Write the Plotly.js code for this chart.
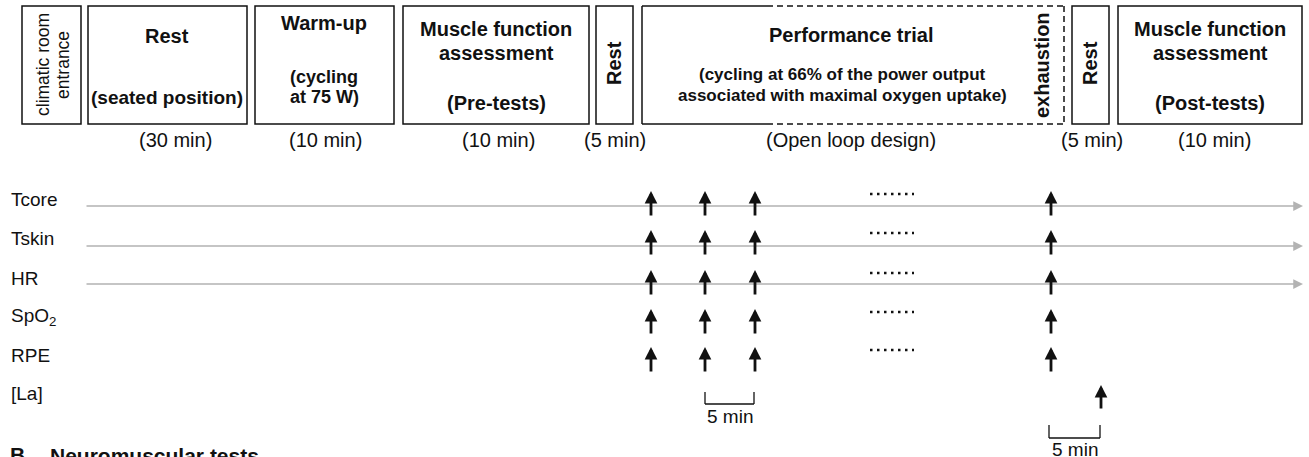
<!DOCTYPE html>
<html>
<head>
<meta charset="utf-8">
<script src="https://cdn.plot.ly/plotly-3.0.1.min.js"></script>
<style>html,body{margin:0;padding:0;background:#fff;}#chart{width:1309px;height:457px;}</style>
</head>
<body>
<div id="chart"></div>
<script>
// ---- content ----
const phaseTitles = ['Rest', 'Warm-up', 'Muscle function<br>assessment', 'Rest', 'Performance trial', 'Rest', 'Muscle function<br>assessment'];
const phaseSubtitles = ['(seated position)', '(cycling<br>at 75 W)', '(Pre-tests)', '', '(cycling at 66% of the power output<br>associated with maximal oxygen uptake)', '', '(Post-tests)'];
const phaseDurations = ['(30 min)', '(10 min)', '(10 min)', '(5 min)', '(Open loop design)', '(5 min)', '(10 min)'];
const entranceLabel = ['climatic room', 'entrance'];
const endLabel = 'exhaustion';
const variables = ['Tcore', 'Tskin', 'HR', 'SpO<sub>2</sub>', 'RPE', '[La]'];
const continuousRecording = [true, true, true, false, false, false];
const sampledDuringTrial = [true, true, true, true, true, false];
const sampledAfterRest = [false, false, false, false, false, true];
const scaleLabel = '5 min';
const panelB = 'B';
const panelBTitle = 'Neuromuscular tests';

// ---- geometry (pixel-like diagram coordinates) ----
const BOX_TOP = 6, BOX_BOT = 124;
const entranceBox = [22, 81];
const phaseBoxes = [[88, 247], [255, 394], [403, 589], [596, 633], [642, 1064], [1072, 1109], [1118, 1302]];
const durationX = [175, 325, 498, 615, 851, 1092, 1214];
const rowY = [206, 246, 284, 324, 363, 405];
const labelY = [199, 238, 278, 317, 355, 393];
const trialSampleX = [651, 705, 755, 1051];
const postRestSampleX = [1101];
const lineStartX = 85, lineEndX = 1303;
const dotsX = [870, 914];

const FONT = 'Liberation Sans, Arial, sans-serif';
const BLACK = '#111';
const shapes = [];
const ann = [];

function rect(x0, x1, dash) {
  shapes.push({type: 'rect', xref: 'x', yref: 'y', x0: x0, x1: x1, y0: BOX_TOP, y1: BOX_BOT,
    line: {color: BLACK, width: 1.5, dash: dash || 'solid'}});
}
function seg(x0, y0, x1, y1, color, width, dash) {
  shapes.push({type: 'line', xref: 'x', yref: 'y', x0: x0, y0: y0, x1: x1, y1: y1,
    line: {color: color, width: width, dash: dash || 'solid'}});
}
function txt(text, x, y, size, opts) {
  ann.push(Object.assign({text: text, x: x, y: y, xref: 'x', yref: 'y', showarrow: false,
    font: {family: FONT, size: size, color: BLACK}, xanchor: 'center', yanchor: 'middle'}, opts || {}));
}
function upArrow(x, yTip, len) {
  ann.push({text: '', x: x, y: yTip, ax: x, ay: yTip + len, xref: 'x', yref: 'y', axref: 'x', ayref: 'y',
    showarrow: true, arrowhead: 2, arrowsize: 0.9, arrowwidth: 2.8, arrowcolor: BLACK, standoff: 0, startstandoff: 0});
}

// entrance box
rect(entranceBox[0], entranceBox[1]);
txt(entranceLabel[0], 43, 65, 17.5, {textangle: -90});
txt(entranceLabel[1], 63, 65, 17.5, {textangle: -90});

// phase boxes
phaseBoxes.forEach((b, i) => {
  if (i === 4) {
    const split = 767;
    seg(b[0], BOX_TOP, b[0], BOX_BOT, BLACK, 1.5);
    seg(b[0], BOX_TOP, split, BOX_TOP, BLACK, 1.5);
    seg(b[0], BOX_BOT, split, BOX_BOT, BLACK, 1.5);
    seg(split, BOX_TOP, b[1], BOX_TOP, BLACK, 1.5, '6px,4px');
    seg(split, BOX_BOT, b[1], BOX_BOT, BLACK, 1.5, '6px,4px');
    seg(b[1], BOX_TOP, b[1], BOX_BOT, BLACK, 1.5, '6px,4px');
  } else {
    rect(b[0], b[1]);
  }
});

// box texts
txt('<b>' + phaseTitles[0] + '</b>', 167, 36, 20);
txt('<b>' + phaseSubtitles[0] + '</b>', 167, 97, 19);
txt('<b>' + phaseTitles[1] + '</b>', 324, 23, 20);
txt('<b>(cycling</b>', 324, 77, 18);
txt('<b>at 75 W)</b>', 324, 97, 18);
txt('<b>Muscle function</b>', 496, 29, 20);
txt('<b>assessment</b>', 496, 53, 20);
txt('<b>' + phaseSubtitles[2] + '</b>', 496, 103, 20);
txt('<b>' + phaseTitles[3] + '</b>', 614, 63, 20, {textangle: -90});
txt('<b>' + phaseTitles[4] + '</b>', 851, 35, 20);
txt('<b>(cycling at 66% of the power output</b>', 842, 74, 17);
txt('<b>associated with maximal oxygen uptake)</b>', 842, 95, 17);
txt('<b>' + endLabel + '</b>', 1042, 65, 20, {textangle: -90});
txt('<b>' + phaseTitles[5] + '</b>', 1090, 63, 20, {textangle: -90});
txt('<b>Muscle function</b>', 1210, 29, 20);
txt('<b>assessment</b>', 1210, 53, 20);
txt('<b>' + phaseSubtitles[6] + '</b>', 1210, 103, 20);

// durations
phaseDurations.forEach((d, i) => txt(d, durationX[i], 140, 20));

// rows
variables.forEach((v, i) => {
  txt(v, 9, labelY[i], 19, {xanchor: 'left'});
  if (continuousRecording[i]) {
    ann.push({text: '', x: lineEndX, y: rowY[i], ax: lineStartX, ay: rowY[i], xref: 'x', yref: 'y', axref: 'x', ayref: 'y',
      showarrow: true, arrowhead: 2, arrowsize: 1.3, arrowwidth: 1.5, arrowcolor: '#b3b3b3', standoff: 0, startstandoff: 0});
  }
});
variables.forEach((v, i) => {
  const tip = labelY[i] - 8;
  if (sampledDuringTrial[i]) {
    trialSampleX.forEach(x => upArrow(x, tip, 26));
    seg(dotsX[0], labelY[i] - 5, dotsX[1], labelY[i] - 5, BLACK, 2.5, '2.5px,4.5px');
  }
  if (sampledAfterRest[i]) {
    postRestSampleX.forEach(x => upArrow(x, tip, 25));
  }
});

// scale bars
function scaleBar(x0, x1, yTop, yBot, yText) {
  seg(x0, yTop, x0, yBot, BLACK, 1.3);
  seg(x1, yTop, x1, yBot, BLACK, 1.3);
  seg(x0, yBot, x1, yBot, BLACK, 1.3);
  txt(scaleLabel, (x0 + x1) / 2, yText, 19);
}
scaleBar(705, 754, 392, 404, 416);
scaleBar(1049, 1100, 425, 438, 449);

// panel B heading (cut at bottom)
txt('<b>' + panelB + '</b>', 8, 454, 21, {xanchor: 'left'});
txt('<b>' + panelBTitle + '</b>', 48, 455, 21, {xanchor: 'left'});

const data = [{x: [0, 1309], y: [0, 457], mode: 'markers', marker: {opacity: 0}, hoverinfo: 'skip', showlegend: false}];
const layout = {
  width: 1309, height: 457,
  margin: {l: 0, r: 0, t: 0, b: 0, pad: 0},
  paper_bgcolor: '#fff', plot_bgcolor: '#fff',
  xaxis: {range: [0, 1309], visible: false, fixedrange: true},
  yaxis: {range: [457, 0], visible: false, fixedrange: true},
  shapes: shapes, annotations: ann, showlegend: false,
  font: {family: FONT}
};
Plotly.newPlot('chart', data, layout, {displayModeBar: false, staticPlot: true});
</script>
</body>
</html>
